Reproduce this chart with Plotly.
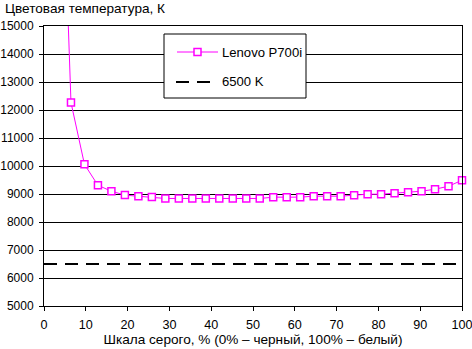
import plotly.graph_objects as go

# Grey-scale steps (% of white) and measured colour temperature, K
grey_pct = [100 * k / 31 for k in range(1, 32)]
temp_k = [26200, 12270, 10060, 9310, 9100, 8960, 8920, 8890, 8840, 8840,
          8840, 8840, 8840, 8840, 8840, 8840, 8887, 8887, 8887, 8922,
          8922, 8922, 8958, 8993, 8993, 9029, 9064, 9100, 9171, 9277, 9491]

ref_x = [0, 100]
ref_temp = [6500, 6500]

series_name = "Lenovo P700i"
ref_name = "6500 K"
y_title = "Цветовая температура, К"
x_title = "Шкала серого, % (0% – черный, 100% – белый)"

FONT = "Arial, 'Liberation Sans', sans-serif"
MAGENTA = "#FF00FF"

# plot area geometry in pixels (used to place the hand-drawn legend)
W, H = 472, 349
ML, MR, MT, MB = 44, 10, 26, 43
PW, PH = W - ML - MR, H - MT - MB


def px(x):
    return (x - ML) / PW


def py(y):
    return (H - MB - y) / PH


fig = go.Figure()
fig.add_trace(go.Scatter(
    x=grey_pct, y=temp_k, name=series_name, mode="lines+markers",
    line=dict(color=MAGENTA, width=1),
    marker=dict(symbol="square", size=7, color="white",
                line=dict(color=MAGENTA, width=1.5)),
    cliponaxis=False,
))
fig.add_trace(go.Scatter(
    x=ref_x, y=ref_temp, name=ref_name, mode="lines",
    line=dict(color="black", width=2, dash="13px,8px"),
))

# legend box
shapes = [
    dict(type="rect", xref="paper", yref="paper",
         x0=px(164), x1=px(306), y0=py(98), y1=py(34),
         line=dict(color="black", width=1), fillcolor="white", layer="above"),
    dict(type="line", xref="paper", yref="paper",
         x0=px(177), x1=px(218), y0=py(52), y1=py(52),
         line=dict(color=MAGENTA, width=1), layer="above"),
    dict(type="rect", xref="paper", yref="paper",
         x0=px(194), x1=px(201), y0=py(55.5), y1=py(48.5),
         line=dict(color=MAGENTA, width=1.5), fillcolor="white", layer="above"),
    dict(type="line", xref="paper", yref="paper",
         x0=px(176), x1=px(212), y0=py(82), y1=py(82),
         line=dict(color="black", width=2, dash="13px,8px"), layer="above"),
]

annotations = [
    dict(text=y_title, xref="paper", yref="paper",
         x=px(3), y=py(8), xanchor="left", yanchor="middle",
         showarrow=False, font=dict(size=13.6)),
    dict(text=series_name, xref="paper", yref="paper",
         x=px(220), y=py(52), xanchor="left", yanchor="middle",
         showarrow=False, font=dict(size=13.1)),
    dict(text=ref_name, xref="paper", yref="paper",
         x=px(220), y=py(82), xanchor="left", yanchor="middle",
         showarrow=False, font=dict(size=13.1)),
]

fig.update_layout(
    width=W, height=H,
    margin=dict(l=ML, r=MR, t=MT, b=MB),
    paper_bgcolor="white", plot_bgcolor="white",
    font=dict(family=FONT, size=13, color="black"),
    showlegend=False,
    xaxis=dict(
        range=[0, 100], dtick=10, showgrid=False, zeroline=False,
        showline=True, linecolor="black", linewidth=1, mirror=True,
        ticks="outside", ticklen=4, tickcolor="black",
        tickfont=dict(size=12.6), automargin=False,
        ticklabeloverflow="allow", ticklabelstandoff=3,
        title=dict(text=x_title, font=dict(size=13.6), standoff=2),
    ),
    yaxis=dict(
        range=[5000, 15000], dtick=1000, showgrid=True, gridcolor="black",
        gridwidth=1, zeroline=False, tickformat="d",
        showline=True, linecolor="black", linewidth=1, mirror=True,
        ticks="outside", ticklen=4, tickcolor="black",
        tickfont=dict(size=12), automargin=False,
        ticklabeloverflow="allow", ticklabelstandoff=3,
    ),
    shapes=shapes,
    annotations=annotations,
)

fig.write_html("out.html")
